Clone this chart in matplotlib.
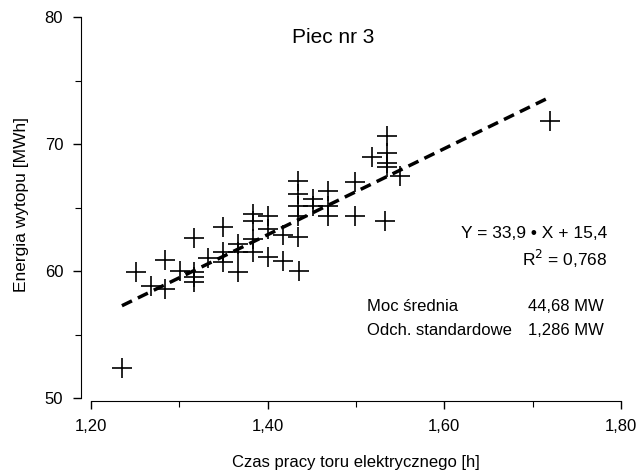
import numpy as np
import matplotlib.pyplot as plt

plt.rcParams['font.family'] = ['Liberation Sans', 'DejaVu Sans']

# czas pracy toru elektrycznego [h] i energia wytopu [MWh]
czas = [1.235, 1.251, 1.268, 1.284, 1.284, 1.301, 1.317, 1.317, 1.317, 1.317,
        1.332, 1.349, 1.349, 1.349, 1.366, 1.366, 1.366, 1.383, 1.383, 1.383,
        1.383, 1.400, 1.400, 1.400, 1.417, 1.417, 1.434, 1.434, 1.434, 1.434,
        1.434, 1.435, 1.451, 1.451, 1.468, 1.468, 1.468, 1.499, 1.499, 1.518,
        1.535, 1.535, 1.535, 1.535, 1.550, 1.533, 1.720]
energia = [52.4, 59.9, 58.8, 60.9, 58.6, 60.0, 62.6, 59.9, 59.5, 59.1,
           61.0, 63.5, 61.5, 60.7, 62.1, 61.5, 59.9, 64.5, 63.9, 62.5,
           61.5, 64.3, 63.3, 61.1, 62.8, 60.8, 67.1, 66.1, 65.1, 64.3,
           62.7, 60.0, 65.7, 65.1, 66.3, 65.1, 64.3, 67.0, 64.3, 69.0,
           70.6, 69.3, 68.5, 68.2, 67.5, 63.9, 71.8]

a, b = 33.9, 15.4
x_ticks = [1.20, 1.40, 1.60, 1.80]
x_minor = [1.30, 1.50, 1.70]
y_ticks = [50, 60, 70, 80]
y_minor = [55, 65, 75]

fig = plt.figure(figsize=(6.37, 4.74), dpi=100)
ax = fig.add_axes([0.1429, 0.1603, 0.832, 0.8038])

ax.plot(czas, energia, '+', color='black', markersize=14, markeredgewidth=1.2)
xl = np.array([min(czas), max(czas)])
ax.plot(xl, a * xl + b, color='black', linewidth=2.5, linestyle=(0, (3.2, 1.9)))

ax.set_xlim(1.20, 1.80)
ax.set_ylim(50, 80)
ax.set_xticks(x_ticks)
ax.set_xticklabels([f'{v:.2f}'.replace('.', ',') for v in x_ticks])
ax.set_xticks(x_minor, minor=True)
ax.set_yticks(y_ticks)
ax.set_yticklabels([str(v) for v in y_ticks])
ax.set_yticks(y_minor, minor=True)
ax.tick_params(axis='both', which='major', length=6, width=1, pad=7, labelsize=12)
ax.tick_params(axis='both', which='minor', length=4, width=0.8)

ax.spines['top'].set_visible(False)
ax.spines['right'].set_visible(False)
ax.spines['left'].set_position(('outward', 7))
ax.spines['bottom'].set_position(('outward', 2))

ax.text(0.457, 0.945, 'Piec nr 3', transform=ax.transAxes, ha='center', va='center', fontsize=15)
ax.text(0.974, 0.433, 'Y = 33,9 • X + 15,4', transform=ax.transAxes, ha='right', va='center', fontsize=12.5)
ax.text(0.974, 0.365, 'R$^2$ = 0,768', transform=ax.transAxes, ha='right', va='center', fontsize=12.5)
ax.text(0.52, 0.239, 'Moc średnia', transform=ax.transAxes, ha='left', va='center', fontsize=12)
ax.text(0.968, 0.239, '44,68 MW', transform=ax.transAxes, ha='right', va='center', fontsize=12)
ax.text(0.52, 0.178, 'Odch. standardowe', transform=ax.transAxes, ha='left', va='center', fontsize=12)
ax.text(0.968, 0.178, '1,286 MW', transform=ax.transAxes, ha='right', va='center', fontsize=12)

fig.text(356 / 637, 1 - 463 / 474, 'Czas pracy toru elektrycznego [h]', ha='center', va='center', fontsize=12)
fig.text(22 / 637, 1 - 205 / 474, 'Energia wytopu [MWh]', ha='center', va='center', rotation=90, fontsize=12.5)

fig.savefig('out.png', dpi=100)
